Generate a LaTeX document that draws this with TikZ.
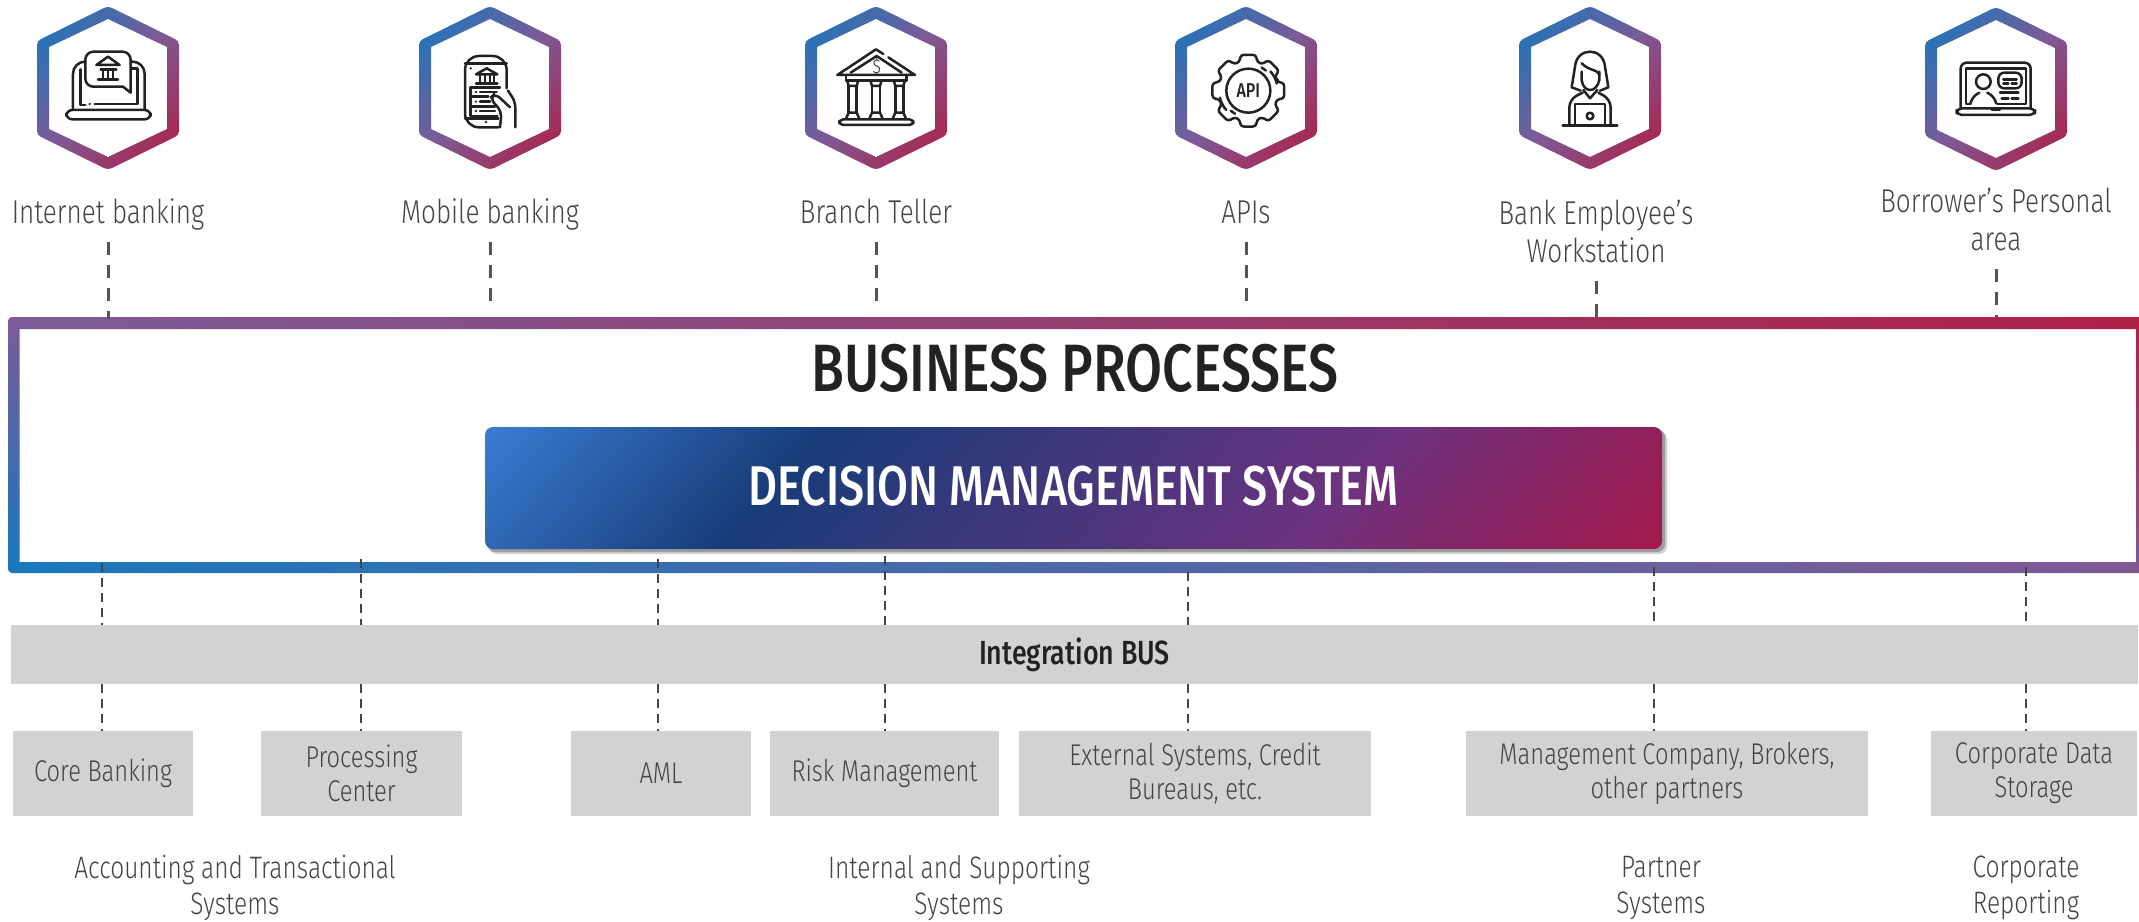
\documentclass[tikz,border=0pt]{standalone}
\usepackage{fontspec}
\usetikzlibrary{calc}

\newfontfamily\lightface{Fira Sans Light}[FakeStretch=0.79]
\newfontfamily\mediumface{Fira Sans Medium}[FakeStretch=0.8]

\definecolor{ringblue}{HTML}{1878BD}
\definecolor{ringmid}{HTML}{7D5A96}
\definecolor{ringred}{HTML}{AF1F46}
\definecolor{dmsblue}{HTML}{3A7CD2}
\definecolor{dmsnavy}{HTML}{183C78}
\definecolor{dmspurple}{HTML}{6B327F}
\definecolor{dmsred}{HTML}{A31A4C}
\definecolor{busgray}{HTML}{D1D2D4}
\definecolor{labelink}{HTML}{444444}
\definecolor{dashink}{HTML}{555555}
\definecolor{iconink}{HTML}{222222}

\pgfdeclarehorizontalshading{ringshade}{100bp}{color(0bp)=(ringblue); color(18bp)=(ringblue);
    color(50bp)=(ringmid); color(82bp)=(ringred); color(100bp)=(ringred)}
\pgfdeclarehorizontalshading{frameshade}{100bp}{color(0bp)=(ringblue); color(44.65bp)=(ringblue);
    color(50bp)=(ringmid); color(55.35bp)=(ringred); color(100bp)=(ringred)}
\pgfdeclarehorizontalshading{dmsshade}{100bp}{color(0bp)=(dmsblue); color(33bp)=(dmsblue);
    color(41.96bp)=(dmsnavy); color(57.04bp)=(dmspurple); color(67bp)=(dmsred); color(100bp)=(dmsred)}

\tikzset{
    toplabel/.style={inner sep=0pt, text=labelink, align=center, font=\lightface\fontsize{33}{38}\selectfont},
    grouplabel/.style={inner sep=0pt, text=labelink, align=center, font=\lightface\fontsize{31}{36}\selectfont},
    sysbox/.style={fill=busgray, inner sep=0pt, minimum height=85pt, text=labelink, align=center,
        font=\lightface\fontsize{30}{34}\selectfont},
    topdash/.style={draw=dashink, line width=3pt, dash pattern=on 13pt off 10pt},
    busdash/.style={draw=labelink, line width=2pt, dash pattern=on 9pt off 6pt},
    icon/.style={draw=iconink, line width=2.5pt, line cap=round, line join=round},
}

\begin{document}
\begin{tikzpicture}[x=1pt, y=-1pt]
    \useasboundingbox (0,0) rectangle (2139,921);

    % hexagons
    \foreach \cx/\cy in {108/88, 490/88, 876/88, 1246/88, 1590/88, 1996/89} {
        \path [shade, shading=ringshade, shading angle=-45, even odd rule, rounded corners=4pt]
            (\cx, \cy-82) -- (\cx+71, \cy-47) -- (\cx+71, \cy+47)
            -- (\cx, \cy+82) -- (\cx-71, \cy+47) -- (\cx-71, \cy-47) -- cycle
            [sharp corners]
            (\cx, \cy-69) -- (\cx+59, \cy-41) -- (\cx+59, \cy+41)
            -- (\cx, \cy+69) -- (\cx-59, \cy+41) -- (\cx-59, \cy-41) -- cycle;
    }

    % laptop with bank bubble
    \begin{scope}[shift={(48,30)}, x=0.3333pt, y=-0.3333pt]
        \draw [icon, rounded corners=12pt] (112,95) -- (75,95) -- (75,240);
        \draw [icon, rounded corners=12pt] (248,95) -- (290,95) -- (290,240);
        \draw [icon] (98,118) -- (98,225) -- (112,225);
        \draw [icon] (140,222) -- (268,222) -- (268,115) -- (250,115);
        \fill [iconink] (125,222) circle (4);
        \draw [icon, rounded corners=6pt] (55,240) -- (308,240) -- (308,268) -- (55,268) -- cycle;
        \draw [icon, rounded corners=8pt] (248,150) -- (248,65) -- (112,65) -- (112,170) -- (225,170);
        \draw [icon] (225,170) -- (248,188) -- (248,150);
        \draw [icon] (145,105) -- (180,80) -- (215,105) -- cycle;
        \draw [icon] (158,118) -- (205,118) (150,148) -- (210,148);
        \foreach \colx in {165,180,195}
            \draw [icon] (\colx,120) -- (\colx,146);
    \end{scope}

    % phone with hand
    \begin{scope}[shift={(440,30)}, x=0.3333pt, y=-0.3333pt]
        \draw [icon, rounded corners=14pt] (175,292) -- (75,292) -- (75,78) -- (200,78) -- (200,175);
        \draw [icon] (75,100) -- (200,100) (75,265) -- (175,265);
        \fill [iconink] (92,115) circle (4) (138,276) circle (4);
        \draw [icon] (108,133) -- (140,115) -- (172,133) -- cycle;
        \draw [icon] (108,160) -- (172,160);
        \foreach \colx in {120,135,150,162}
            \draw [icon] (\colx,135) -- (\colx,158);
        \draw [icon] (180,172) -- (92,172) -- (92,258) -- (172,258);
        \draw [icon] (92,200) -- (145,200) (92,230) -- (165,230);
        \draw [icon] (120,186) -- (170,186) (120,215) -- (150,215) (120,243) -- (165,243);
        \fill [iconink] (108,186) circle (4) (108,215) circle (4) (108,243) circle (4);
        \draw [icon, rounded corners=6pt] (204,182) -- (226,215) -- (226,292);
        \draw [icon, rounded corners=6pt] (210,232) -- (165,190) -- (150,205) -- (185,245) -- (180,292);
    \end{scope}

    % bank with columns
    \begin{scope}[shift={(820,30)}, x=0.3333pt, y=-0.3333pt]
        \draw [icon] (190,72) -- (168,58) -- (52,135) -- (285,135) -- (205,82);
        \draw [icon] (92,128) -- (170,78) -- (245,128);
        \node (dollar) [inner sep=0pt, text=iconink, font=\lightface\fontsize{20}{20}\selectfont] at (170,110) {\$};
        \draw [icon] (78,152) -- (260,152) (78,135) -- (78,152) (260,135) -- (260,152);
        \foreach \colx in {98,168,238} {
            \draw [icon] (\colx-16,154) -- (\colx-12,168) -- (\colx+12,168) -- (\colx+16,154);
            \draw [icon] (\colx-12,168) -- (\colx-12,248) (\colx+12,168) -- (\colx+12,248);
            \draw [icon] (\colx-20,266) -- (\colx-12,248) -- (\colx+12,248) -- (\colx+20,266);
        }
        \draw [icon, rounded corners=4pt] (58,268) -- (280,268) -- (280,285) -- (58,285) -- cycle;
    \end{scope}

    % gear
    \begin{scope}[shift={(1195,30)}, x=0.3333pt, y=-0.3333pt, shift={(160,182)}]
        \draw [icon, rounded corners=3pt] (-17:90)
            \foreach \a in {0,45,...,315} { -- (\a-17:90) -- (\a-12:110) -- (\a+12:110) -- (\a+17:90) } -- cycle;
        \draw [icon] (0,0) circle (66);
        \draw [icon] (-41:88) arc (-41:-14:88) (-60:80) arc (-60:-49:80);
        \draw [icon] (139:88) arc (139:166:88) (120:80) arc (120:131:80);
        \node (apitext) [inner sep=0pt, text=iconink, font=\mediumface\fontsize{20}{20}\selectfont] at (0,0) {API};
    \end{scope}

    % woman at a laptop
    \begin{scope}[shift={(1540,30)}, x=0.3333pt, y=-0.3333pt]
        \draw [icon] (122,182) -- (95,172) -- (105,110) .. controls (110,50) and (190,50) .. (195,110)
            -- (205,172) -- (180,182);
        \draw [icon] (125,125) -- (125,150) .. controls (130,190) and (170,190) .. (178,150) -- (178,125);
        \draw [icon] (125,100) .. controls (150,125) and (170,115) .. (178,135);
        \draw [icon] (130,180) -- (150,205) -- (172,180);
        \draw [icon, rounded corners=8pt] (128,188) -- (88,208) -- (88,285);
        \draw [icon, rounded corners=8pt] (175,188) -- (212,208) -- (212,285);
        \draw [icon] (105,285) -- (105,222) -- (195,222) -- (195,285);
        \draw [icon] (150,258) circle (10);
        \draw [icon] (68,287) -- (232,287);
    \end{scope}

    % laptop with person
    \begin{scope}[shift={(1940,40)}, x=0.3333pt, y=-0.3333pt]
        \draw [icon, rounded corners=6pt] (62,205) -- (62,68) -- (272,68) -- (272,205);
        \draw [icon] (92,192) -- (78,192) -- (78,85) -- (258,85) -- (258,192) -- (172,192);
        \draw [icon, rounded corners=5pt] (50,205) -- (285,205) -- (285,225) -- (50,225) -- cycle;
        \draw [icon] (155,208) -- (180,208);
        \draw [icon] (130,125) circle (22);
        \draw [icon, rounded corners=6pt] (92,188) -- (95,172) -- (118,158);
        \draw [icon, rounded corners=6pt] (168,188) -- (165,172) -- (142,158);
        \draw [icon, rounded corners=6pt] (175,98) -- (245,98) -- (245,145) -- (175,145) -- cycle;
        \draw [icon] (190,118) -- (230,118) (190,131) -- (205,131) (215,131) -- (230,131);
        \draw [icon] (180,158) -- (235,158) (185,175) -- (205,175) (215,175) -- (235,175);
    \end{scope}

    % channel labels
    \node (internet) [toplabel, minimum height=54pt, text height=23pt, text depth=7pt] at (108,215) {Internet banking};
    \node (mobile) [toplabel, minimum height=54pt, text height=23pt, text depth=7pt] at (490,215) {Mobile banking};
    \node (branch) [toplabel, minimum height=54pt, text height=23pt, text depth=7pt] at (876,215) {Branch Teller};
    \node (apis) [toplabel, minimum height=54pt, text height=23pt, text depth=7pt] at (1246,215) {APIs};
    \node (employee) [toplabel, minimum height=100pt] at (1596,231) {Bank Employee’s\\Workstation};
    \node (borrower) [toplabel, minimum height=100pt] at (1996,219) {Borrower’s Personal\\area};

    % business processes frame
    \node (frame) [minimum width=2131pt, minimum height=256pt, inner sep=0pt] at (1073.5,445) {};
    \begin{scope}[even odd rule]
        \clip (12,317) -- (2139,317) -- (2139,573) -- (12,573)
            .. controls (9.8,573) and (8,571.2) .. (8,569) -- (8,321)
            .. controls (8,318.8) and (9.8,317) .. (12,317) -- cycle
            (19.5,329) -- (2136,329) -- (2136,562) -- (19.5,562) -- cycle;
        \shade [shading=frameshade, shading angle=83]
            ([shift={(-1200,-1200)}]frame.center) rectangle ([shift={(1200,1200)}]frame.center);
    \end{scope}
    \node (business) [inner sep=0pt, text=iconink, font=\mediumface\fontsize{67}{75}\selectfont] at (1075,368) {BUSINESS PROCESSES};

    % decision management system
    \fill [black, opacity=0.18] (489,431) [rounded corners=8pt] rectangle (1667,554);
    \fill [black, opacity=0.25] (487,429) [rounded corners=8pt] rectangle (1665,552);
    \node (dms) [minimum width=1177pt, minimum height=122pt, inner sep=0pt, rounded corners=8pt,
        text=white, text depth=5pt, font=\mediumface\fontsize{56}{64}\selectfont,
        path picture={\shade [shading=dmsshade, shading angle=-42]
            ([shift={(-700,-700)}]path picture bounding box.center) rectangle
            ([shift={(700,700)}]path picture bounding box.center);}]
        at (1073.5,488) {DECISION MANAGEMENT SYSTEM};

    % integration bus
    \node (bus) [fill=busgray, minimum width=2127pt, minimum height=59pt, inner sep=0pt, text=iconink,
        font=\mediumface\fontsize{33.5}{38}\selectfont] at (1074.5,654.5) {Integration BUS};

    % systems
    \node (core) [sysbox, minimum width=180pt] at (103,773.5) {Core Banking};
    \node (processing) [sysbox, minimum width=201pt] at (361.5,773.5) {Processing\\Center};
    \node (aml) [sysbox, minimum width=180pt] at (661,773.5) {AML};
    \node (risk) [sysbox, minimum width=229pt] at (884.5,773.5) {Risk Management};
    \node (external) [sysbox, minimum width=352pt] at (1195,773.5) {External Systems, Credit\\Bureaus, etc.};
    \node (partners) [sysbox, minimum width=402pt] at (1667,773.5) {Management Company, Brokers,\\other partners};
    \node (storage) [sysbox, minimum width=206pt] at (2034,773.5) {Corporate Data\\Storage};

    % group labels
    \node (accounting) [grouplabel] at (235,888) {Accounting and Transactional\\Systems};
    \node (internal) [grouplabel] at (959,888) {Internal and Supporting\\Systems};
    \node (partner) [grouplabel] at (1661,888) {Partner\\Systems};
    \node (reporting) [grouplabel] at (2026,888) {Corporate\\Reporting};

    % channel connectors
    \draw [topdash] (internet.south) -- ([yshift=-2pt]internet.south |- frame.north);
    \draw [topdash, shorten >=15pt] (mobile.south) -- (mobile.south |- frame.north);
    \draw [topdash, shorten >=15pt] (branch.south) -- (branch.south |- frame.north);
    \draw [topdash, shorten >=15pt] (apis.south) -- (apis.south |- frame.north);
    \draw [topdash] (employee.south) -- (employee.south |- frame.north);
    \draw [topdash] (borrower.south) -- (borrower.south |- frame.north);

    % system connectors
    \coordinate (tapcore) at (102,563);
    \coordinate (tapprocessing) at (361,559);
    \coordinate (tapaml) at (658,559);
    \coordinate (taprisk) at (884.5,556);
    \coordinate (tapexternal) at (1187.5,572);
    \coordinate (tappartners) at (1654,567);
    \coordinate (tapstorage) at (2026,567);
    \foreach \tap/\sys in {tapcore/core, tapprocessing/processing, tapaml/aml, taprisk/risk,
        tapexternal/external, tappartners/partners, tapstorage/storage} {
        \draw [busdash] (\tap) -- (\tap |- bus.north);
        \draw [busdash] (\tap |- bus.south) -- (\tap |- \sys.north);
    }
\end{tikzpicture}
\end{document}
